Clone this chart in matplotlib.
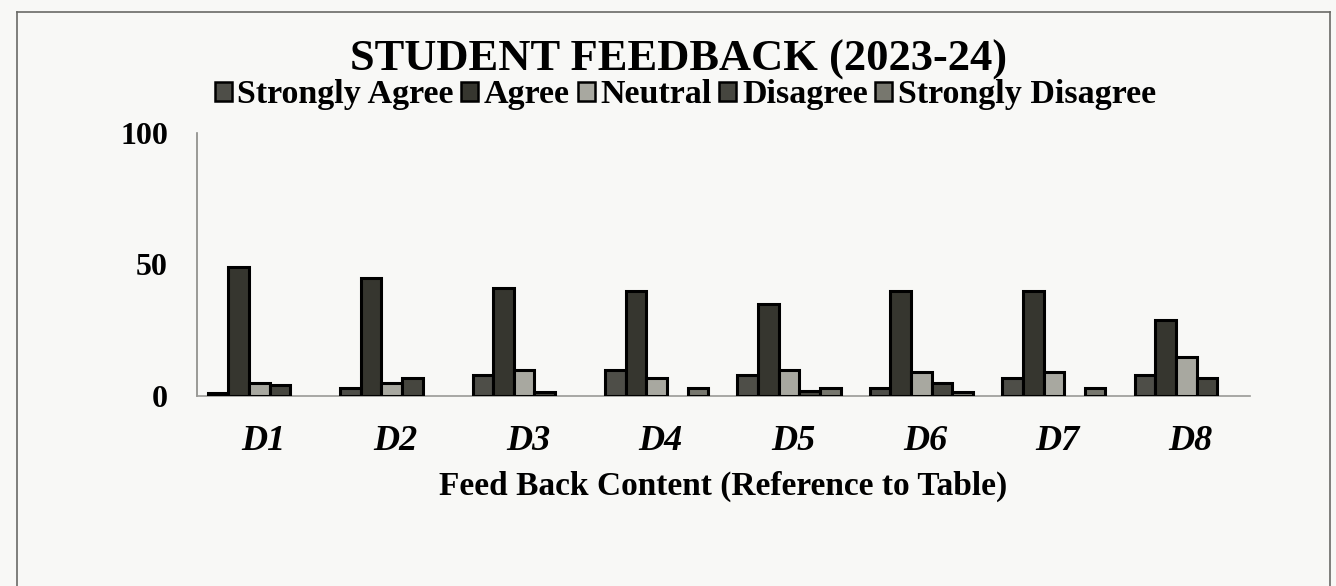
import matplotlib
matplotlib.use("Agg")
import matplotlib.pyplot as plt
import numpy as np
from matplotlib.patches import Patch
from matplotlib.lines import Line2D

categories = ["D1", "D2", "D3", "D4", "D5", "D6", "D7", "D8"]
strongly_agree = [1, 3, 8, 10, 8, 3, 7, 8]
agree = [49, 45, 41, 40, 35, 40, 40, 29]
neutral = [5, 5, 10, 7, 10, 9, 9, 15]
disagree = [4, 7, 1.5, 0, 2, 5, 0, 7]
strongly_disagree = [0, 0, 0, 3, 3, 1.5, 3, 0]

series = [
    ("Strongly Agree", strongly_agree, "#4e4e48"),
    ("Agree", agree, "#36362f"),
    ("Neutral", neutral, "#a8a8a0"),
    ("Disagree", disagree, "#46463f"),
    ("Strongly Disagree", strongly_disagree, "#77776e"),
]

plt.rcParams['font.family'] = ['Liberation Serif', 'DejaVu Serif']
bg = "#f8f8f6"
fig = plt.figure(figsize=(13.36, 5.86), dpi=100, facecolor=bg)
ax = fig.add_axes([0.1475, 0.3242, 0.788, 0.4494])
ax.set_facecolor(bg)

x = np.arange(len(categories))
w = 0.156
for i, (name, vals, col) in enumerate(series):
    vals = np.array(vals, dtype=float)
    mask = vals > 0
    ax.bar(x[mask] + (i - 2) * w, vals[mask], width=w, color=col,
           edgecolor="black", linewidth=2.2, label=name, zorder=3)

ax.set_xlim(-0.47, 7.48)
ax.set_ylim(0, 100)
ax.set_yticks([0, 50, 100])
ax.set_yticklabels(["0", "50", "100"], fontsize=23, fontweight="bold")
ax.set_xticks(x + 0.03)
ax.set_xticklabels(categories, fontsize=26, fontweight="bold", style="italic")
ax.tick_params(axis="both", length=0)
ax.tick_params(axis="y", pad=21)
ax.tick_params(axis="x", pad=21)
for s in ["top", "right"]:
    ax.spines[s].set_visible(False)
ax.spines["left"].set_color("#8a8a86")
ax.spines["left"].set_linewidth(1.2)
ax.spines["bottom"].set_color("#9a9a96")
ax.spines["bottom"].set_linewidth(1.2)

ax.set_xlabel("Feed Back Content (Reference to Table)", fontsize=24,
              fontweight="bold", labelpad=9)

fig.text(0.508, 0.898, "STUDENT FEEDBACK (2023-24)", ha="center", va="center",
         fontsize=32, fontweight="bold")

handles = [Patch(facecolor=c, edgecolor="black", linewidth=1.8) for _, _, c in series]
leg = fig.legend(handles, [n for n, _, _ in series], loc="center",
                 bbox_to_anchor=(0.513, 0.838), ncol=5, frameon=False,
                 prop={"size": 24.5, "weight": "bold"}, handlelength=0.5,
                 handleheight=0.5, handletextpad=0.17, columnspacing=0.22,
                 borderpad=0.1)

# outer frame
for xs, ys in [([0.0127, 0.0127], [0.0, 0.9795]), ([0.0127, 0.9955], [0.9795, 0.9795]),
               ([0.9955, 0.9955], [0.9795, 0.0])]:
    fig.add_artist(Line2D(xs, ys, transform=fig.transFigure, color="#6a6a66", linewidth=1.2))

fig.savefig("out.png", dpi=100, facecolor=bg)
